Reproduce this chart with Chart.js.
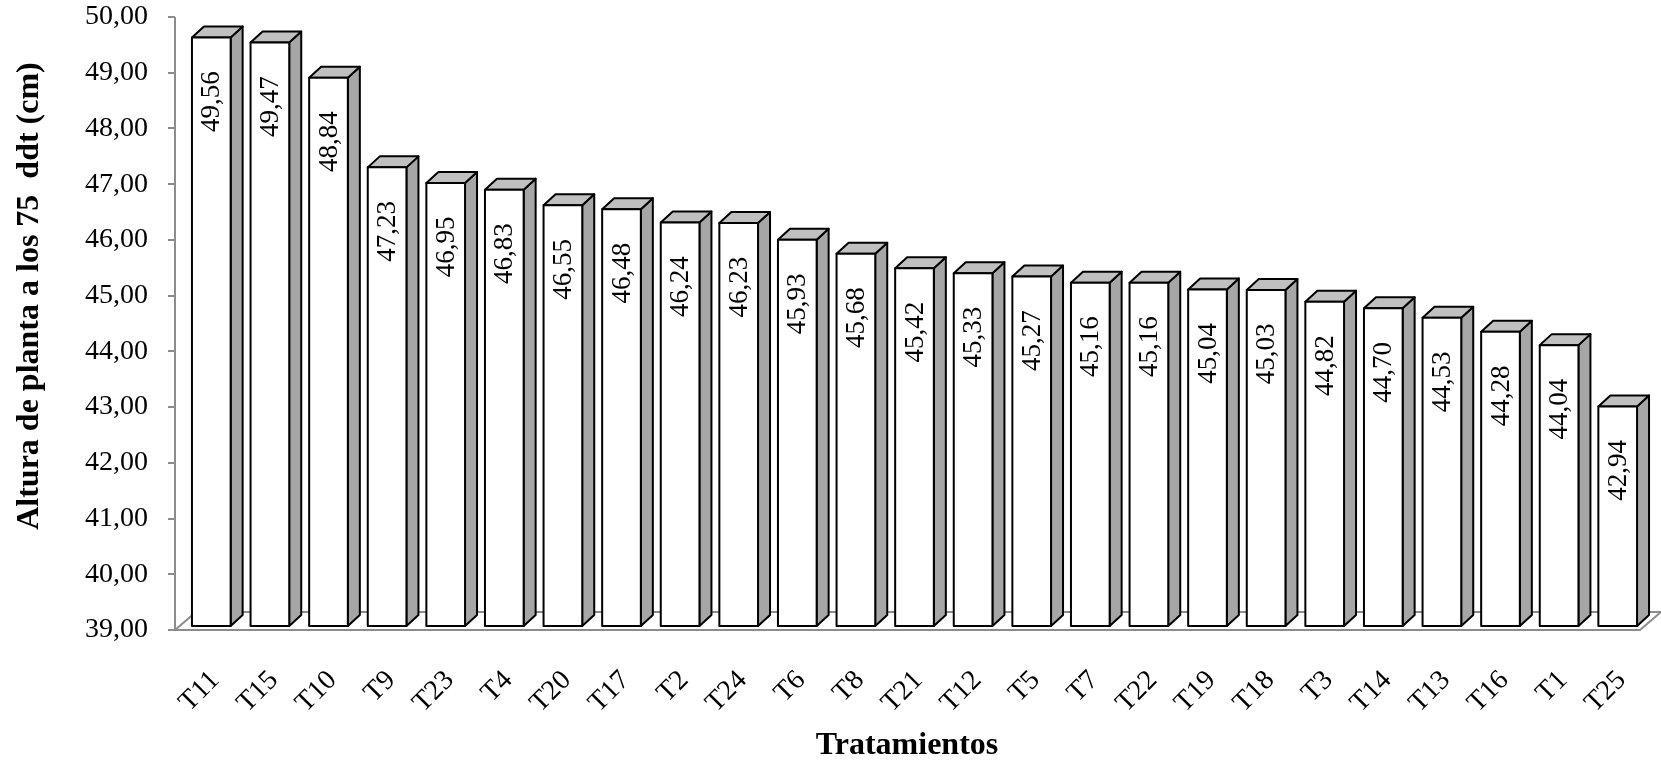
<!DOCTYPE html>
<html>
<head>
<meta charset="utf-8">
<title>Altura de planta a los 75 ddt</title>
<script src="https://cdn.jsdelivr.net/npm/chart.js@4/dist/chart.umd.min.js"></script>
<style>
  html, body { margin: 0; padding: 0; background: #ffffff; }
  canvas { display: block; }
</style>
</head>
<body>
<canvas id="grafico" width="1661" height="765" style="width:1661px;height:765px"></canvas>
<script>
// Tratamientos ordenados de mayor a menor altura
const tratamientos = ['T11', 'T15', 'T10', 'T9', 'T23', 'T4', 'T20', 'T17', 'T2', 'T24', 'T6', 'T8', 'T21',
  'T12', 'T5', 'T7', 'T22', 'T19', 'T18', 'T3', 'T14', 'T13', 'T16', 'T1', 'T25'];

// Altura de planta (cm) a los 75 días después del trasplante
const altura = [49.56, 49.47, 48.84, 47.23, 46.95, 46.83, 46.55, 46.48, 46.24, 46.23, 45.93, 45.68, 45.42,
  45.33, 45.27, 45.16, 45.16, 45.04, 45.03, 44.82, 44.70, 44.53, 44.28, 44.04, 42.94];

// Rango y paso del eje vertical
const ejeY = { min: 39, max: 50, paso: 1 };

const tituloY = 'Altura de planta a los 75  ddt (cm)';
const tituloX = 'Tratamientos';

const SERIF = '"Liberation Serif", "Times New Roman", Times, serif';
const coma = v => v.toFixed(2).replace('.', ',');

// Geometría de la vista en perspectiva
const PROF_X = 12, PROF_Y = 11;     // fondo de cada columna
const PISO_X = 21, PISO_Y = 18;     // fondo del piso
const CARA_Y = 4;                   // la cara frontal está algo detrás del borde del piso
const EJE_DX = 7;                   // el eje vertical queda en la esquina frontal del piso

const columnas3D = {
  id: 'columnas3D',
  beforeDatasetsDraw(chart) {
    const { ctx, chartArea: a, scales: { y } } = chart;
    const x0 = a.left - EJE_DX, x1 = a.right - EJE_DX;
    const yb = y.getPixelForValue(ejeY.min);
    ctx.save();
    ctx.strokeStyle = '#8c8c8c';
    ctx.lineWidth = 2;
    ctx.lineJoin = 'miter';
    // piso
    ctx.beginPath();
    ctx.moveTo(x0, yb);
    ctx.lineTo(x1, yb);
    ctx.lineTo(x1 + PISO_X, yb - PISO_Y);
    ctx.lineTo(x0 + PISO_X, yb - PISO_Y);
    ctx.closePath();
    ctx.stroke();
    // eje vertical con sus marcas
    ctx.beginPath();
    ctx.moveTo(x0, y.getPixelForValue(ejeY.max));
    ctx.lineTo(x0, yb);
    y.ticks.forEach(t => {
      const py = Math.round(y.getPixelForValue(t.value));
      ctx.moveTo(x0 - 7, py);
      ctx.lineTo(x0, py);
    });
    ctx.stroke();
    ctx.restore();
  },
  afterDatasetsDraw(chart) {
    const { ctx, scales: { y } } = chart;
    const meta = chart.getDatasetMeta(0);
    const base = y.getPixelForValue(ejeY.min) - CARA_Y;
    ctx.save();
    ctx.lineWidth = 2;
    ctx.lineJoin = 'round';
    ctx.strokeStyle = '#000000';
    meta.data.forEach((el, i) => {
      const w = el.width;
      const l = el.x - w / 2, r = el.x + w / 2;
      const t = el.y - CARA_Y, b = base;
      // cara lateral
      ctx.beginPath();
      ctx.moveTo(r, t);
      ctx.lineTo(r + PROF_X, t - PROF_Y);
      ctx.lineTo(r + PROF_X, b - PROF_Y);
      ctx.lineTo(r, b);
      ctx.closePath();
      ctx.fillStyle = '#a6a6a6';
      ctx.fill();
      ctx.stroke();
      // cara superior
      ctx.beginPath();
      ctx.moveTo(l, t);
      ctx.lineTo(l + PROF_X, t - PROF_Y);
      ctx.lineTo(r + PROF_X, t - PROF_Y);
      ctx.lineTo(r, t);
      ctx.closePath();
      ctx.fillStyle = '#c0c0c0';
      ctx.fill();
      ctx.stroke();
      // cara frontal
      ctx.beginPath();
      ctx.rect(l, t, w, b - t);
      ctx.fillStyle = '#ffffff';
      ctx.fill();
      ctx.stroke();
      // etiqueta del valor
      const v = chart.data.datasets[0].data[i];
      ctx.save();
      ctx.translate(el.x + 1, t + 64);
      ctx.rotate(-Math.PI / 2);
      ctx.fillStyle = '#000000';
      ctx.font = '27px ' + SERIF;
      ctx.textAlign = 'center';
      ctx.textBaseline = 'middle';
      ctx.fillText(coma(v), 0, 0);
      ctx.restore();
    });
    ctx.restore();
  },
  afterDraw(chart) {
    const { ctx } = chart;
    ctx.save();
    ctx.fillStyle = '#000000';
    ctx.textAlign = 'center';
    ctx.textBaseline = 'middle';
    // título del eje horizontal
    ctx.font = 'bold 32px ' + SERIF;
    ctx.fillText(tituloX, 907, 746);
    // título del eje vertical
    ctx.translate(30, 296);
    ctx.rotate(-Math.PI / 2);
    ctx.fillText(tituloY, 0, 0);
    ctx.restore();
  }
};

new Chart(document.getElementById('grafico'), {
  type: 'bar',
  data: {
    labels: tratamientos,
    datasets: [{
      label: tituloY,
      data: altura,
      base: ejeY.min,
      backgroundColor: 'rgba(0,0,0,0)',
      borderWidth: 0,
      categoryPercentage: 1,
      barPercentage: 0.66
    }]
  },
  options: {
    responsive: false,
    animation: false,
    layout: { padding: { top: 17, right: 14, bottom: 0, left: 0 } },
    plugins: { legend: { display: false }, tooltip: { enabled: false } },
    scales: {
      x: {
        grid: { display: false },
        border: { display: false },
        ticks: {
          color: '#000000',
          font: { family: SERIF, size: 28 },
          minRotation: 45,
          maxRotation: 45,
          autoSkip: false,
          padding: 26,
          labelOffset: 4
        },
        afterFit(scale) {
          scale.height = 135;
          scale.paddingLeft = 0;
          scale.paddingRight = 0;
        }
      },
      y: {
        min: ejeY.min,
        max: ejeY.max,
        grid: { display: false },
        border: { display: false },
        ticks: {
          stepSize: ejeY.paso,
          color: '#000000',
          font: { family: SERIF, size: 28 },
          padding: 26,
          callback: v => coma(v)
        },
        afterFit(scale) {
          scale.width = 182;
          scale.paddingTop = 0;
          scale.paddingBottom = 0;
        }
      }
    }
  },
  plugins: [columnas3D]
});
</script>
</body>
</html>
